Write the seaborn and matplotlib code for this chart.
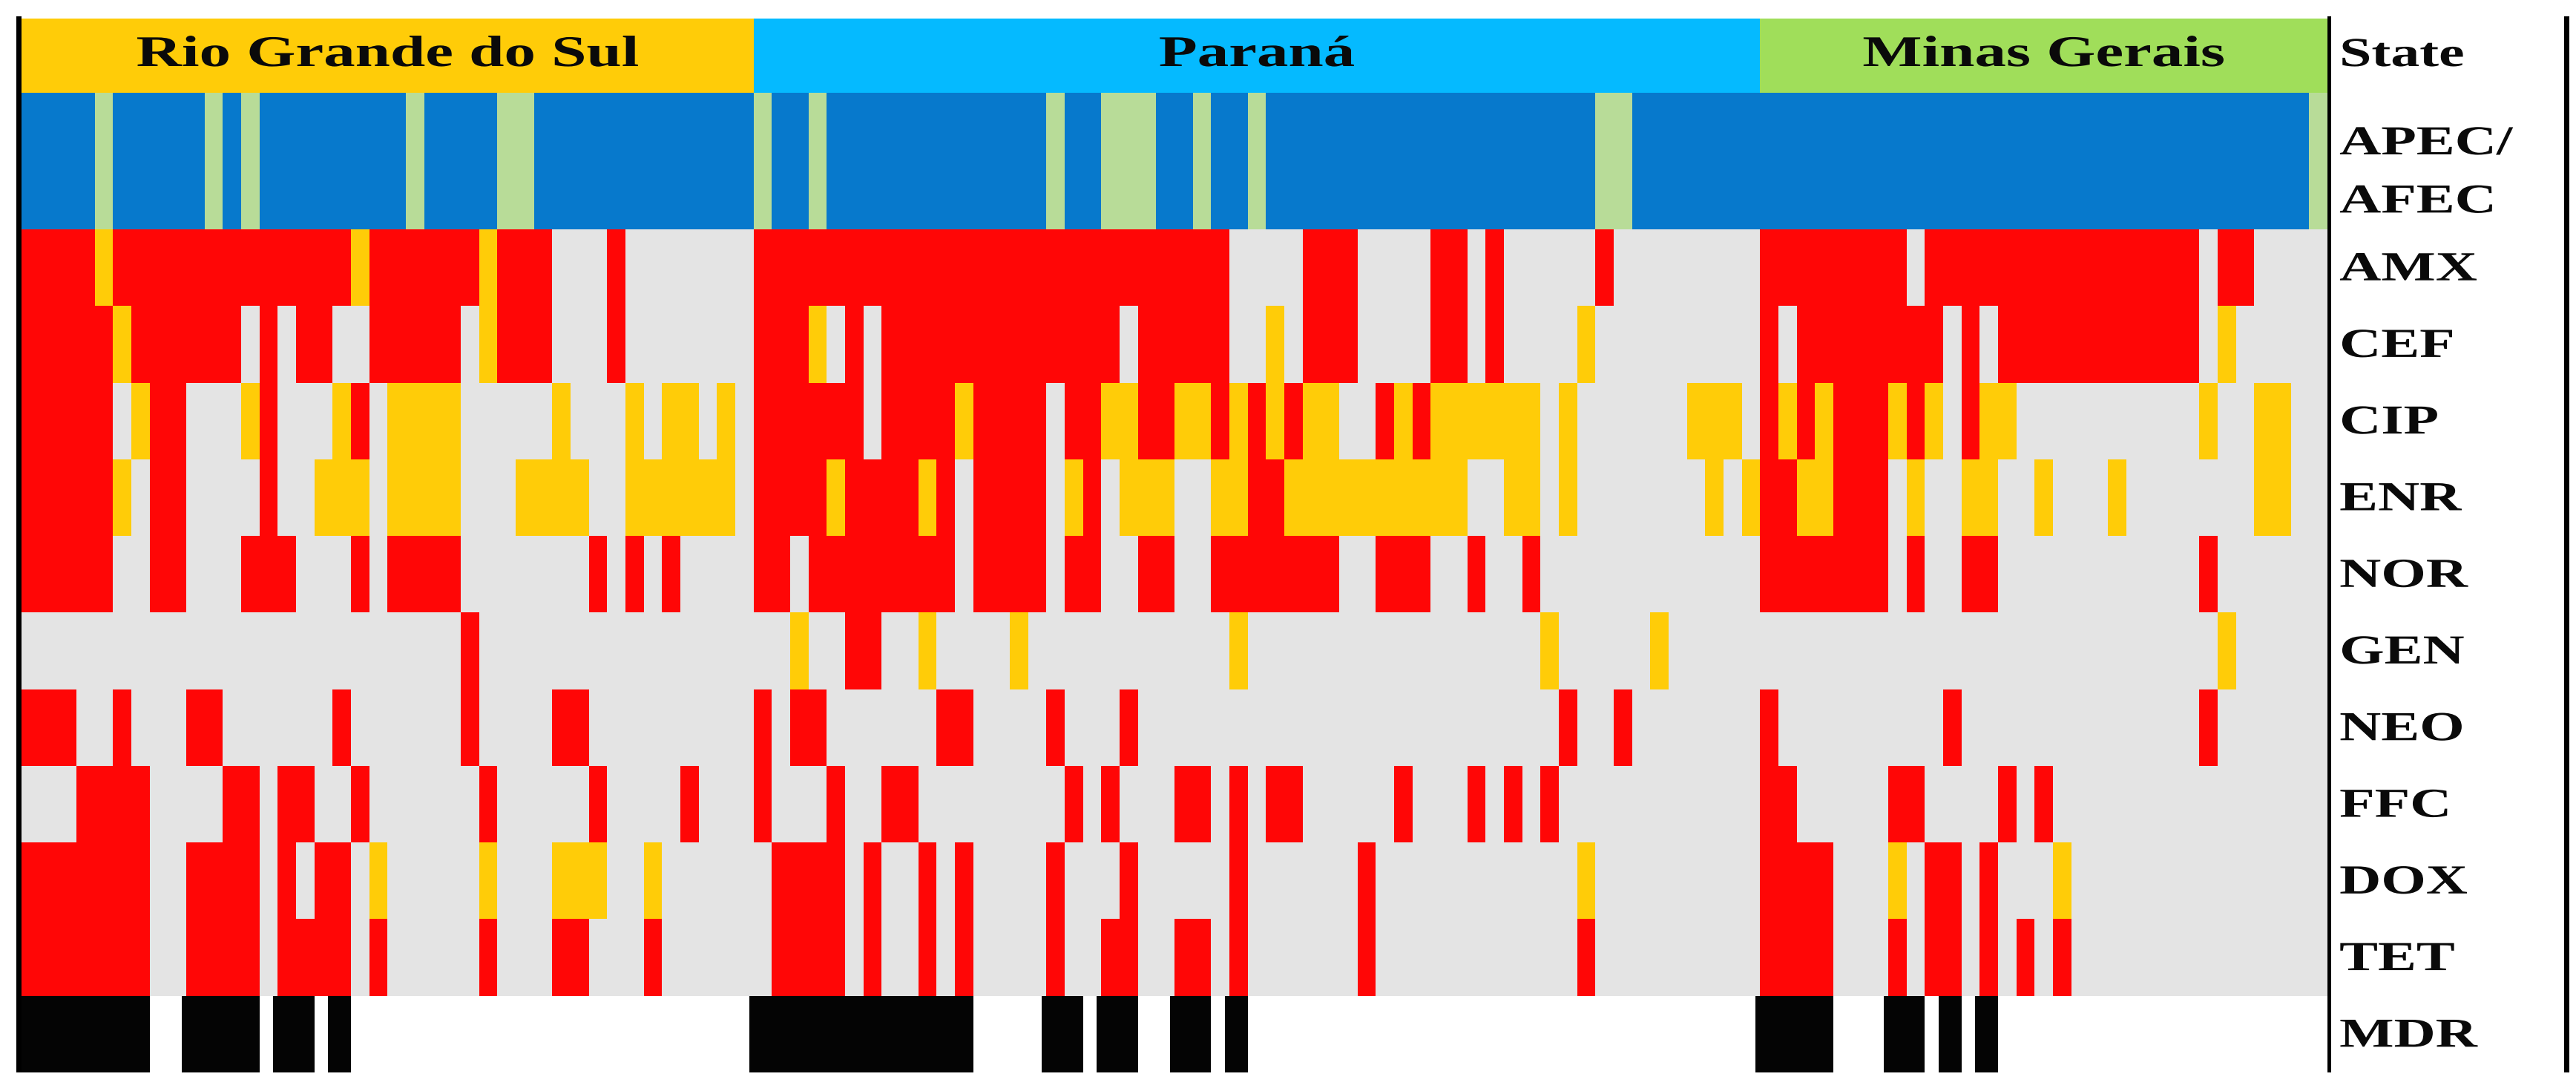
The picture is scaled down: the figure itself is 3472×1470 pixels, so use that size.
import numpy as np
import pandas as pd
import matplotlib
matplotlib.use('Agg')
import matplotlib.pyplot as plt
import seaborn as sns
from matplotlib.colors import ListedColormap
from matplotlib.patches import Rectangle
from matplotlib.patheffects import AbstractPathEffect
from matplotlib.transforms import Affine2D

N_COLS = 126

# isolates per state, in column order
states = ['Rio Grande do Sul', 'Paraná', 'Minas Gerais']
state_sizes = [40, 55, 31]

# columns that are AFEC, all others are APEC
afec = "4 10 12 21 26-27 40 43 56 59-61 64 67 86-87 125"

# resistant (red) and intermediate (yellow) columns for each drug
amx_r = "0-3 5-17 19-24 26-28 32 40-65 70-72 77-78 80 86 95-102 104-118 120-121"
amx_i = "4 18 25"
cef_r = "0-4 6-11 13 15-16 19-23 26-28 32 40-42 45 47-59 61-65 70-72 77-78 80 95 97-104 106 108-118"
cef_i = "5 25 43 68 85 120"
cip_r = "0-4 7-8 13 18 40-45 47-50 52-55 57-58 61-62 65 67 69 74 76 95 97 99-101 103 106"
cip_i = "6 12 17 20-23 29 33 35-36 38 51 59-60 63-64 66 68 70-71 75 77-82 84 91-93 96 98 102 104 107-108 119 122-123"
enr_r = "0-4 7-8 13 40-43 45-48 50 52-55 58 67-68 95-96 99-101"
enr_i = "5 16-18 20-23 27-30 33-38 44 49 57 60-62 65-66 69-78 81-82 84 92 94 97-98 103 106-107 110 114 122-123"
nor_r = "0-4 7-8 12-14 18 20-23 31 33 35 40-41 43-50 52-55 57-58 61-62 65-71 74-76 79 82 95-101 103 106-107 119"
nor_i = ""
gen_r = "24 45-46"
gen_i = "42 49 54 66 83 89 120"
neo_r = "0-2 5 9-10 17 24 29-30 40 42-43 50-51 56 60 84 87 95 105 119"
neo_i = ""
ffc_r = "3-6 11-12 14-15 18 25 31 36 40 44 47-48 57 59 63-64 66 68-69 75 79 81 83 95-96 102-103 108 110"
ffc_i = ""
dox_r = "0-6 9-12 14 16-17 41-44 46 49 51 56 60 66 73 95-98 104-105 107"
dox_i = "19 25 29-31 34 85 102 111"
tet_r = "0-6 9-12 14-17 19 25 29-30 34 41-44 46 49 51 56 59-60 63-64 66 73 85 95-98 102 104-105 107 109 111"
tet_i = ""
mdr = "0-6 9-12 14-15 17 40-51 56-57 59-60 63-64 66 95-98 102-103 105 107"


def parse_cols(spans):
    """turn '0-3 7' into a list of column numbers"""
    cols = []
    for part in spans.split():
        a, _, b = part.partition('-')
        cols.extend(range(int(a), int(b or a) + 1))
    return cols


def make_row(red, yellow=""):
    row = np.zeros(N_COLS, dtype=int)
    row[parse_cols(yellow)] = 1
    row[parse_cols(red)] = 2
    return row


class StretchX(AbstractPathEffect):
    """the original lettering is wider than any installed serif"""

    def __init__(self, factor, x0, dy=0):
        super().__init__()
        self.stretch = Affine2D().translate(-x0, dy).scale(factor, 1).translate(x0, 0)

    def draw_path(self, renderer, gc, tpath, affine, rgbFace=None):
        super().draw_path(renderer, gc, tpath, affine + self.stretch, rgbFace)


sns.set_theme(style='white')
plt.rcParams['font.family'] = ['Liberation Serif', 'DejaVu Serif']

W, H = 3473, 1470
LEFT, RIGHT = 29, 3137
LABEL_X = 3157
fig = plt.figure(figsize=(W / 100, H / 100), dpi=100, facecolor='white')


def add_ax(top, bottom, shift=0):
    return fig.add_axes([(LEFT + shift) / W, 1 - bottom / H, (RIGHT - LEFT) / W, (bottom - top) / H])


def style_labels(ax, dy=3):
    ax.yaxis.tick_right()
    ax.tick_params(axis='y', length=0, pad=12, labelsize=40, labelrotation=0)
    ax.tick_params(axis='x', length=0)
    for lbl in ax.get_yticklabels():
        lbl.set_fontweight('bold')
        lbl.set_color('#0a0a0a')
        lbl.set_horizontalalignment('left')
        lbl.set_linespacing(1.66)
        lbl.set_path_effects([StretchX(1.4, LABEL_X - 2, dy)])


# state strip
ax_state = add_ax(25, 125)
state_row = np.repeat(np.arange(len(states)), state_sizes)
sns.heatmap(pd.DataFrame([state_row], index=['State']), ax=ax_state, cbar=False,
            cmap=ListedColormap(['#FFCC08', '#05BAFF', '#A0DE5A']), vmin=-0.5, vmax=2.5,
            xticklabels=False, yticklabels=True, antialiased=False)
style_labels(ax_state, dy=6)
start = 0
for name, size in zip(states, state_sizes):
    xc = start + size / 2
    x0 = ax_state.transData.transform((xc, 0))[0]
    ax_state.text(xc, 0.5, name, ha='center', va='center', fontsize=42.5, fontweight='bold',
                  color='#0a0a0a', path_effects=[StretchX(1.44, x0)])
    start += size

# phylogroup strip
ax_type = add_ax(125, 309)
sns.heatmap(pd.DataFrame([make_row(afec)], index=['APEC/\nAFEC']), ax=ax_type, cbar=False,
            cmap=ListedColormap(['#0779CC', '#B8DC98']), vmin=0, vmax=2,
            xticklabels=False, yticklabels=True, antialiased=False)
style_labels(ax_type)

# resistance matrix
resistance = pd.DataFrame(
    [make_row(amx_r, amx_i), make_row(cef_r, cef_i), make_row(cip_r, cip_i),
     make_row(enr_r, enr_i), make_row(nor_r, nor_i), make_row(gen_r, gen_i),
     make_row(neo_r, neo_i), make_row(ffc_r, ffc_i), make_row(dox_r, dox_i),
     make_row(tet_r, tet_i)],
    index=['AMX', 'CEF', 'CIP', 'ENR', 'NOR', 'GEN', 'NEO', 'FFC', 'DOX', 'TET'])
mdr_row = np.full(N_COLS, 4)
mdr_row[parse_cols(mdr)] = 3
resistance.loc['MDR'] = mdr_row

ax_res = add_ax(309, 1445)
sns.heatmap(resistance, ax=ax_res, cbar=False,
            cmap=ListedColormap(['#E4E4E4', '#FFCC08', '#FF0606', '#040404', '#FFFFFF']),
            vmin=-0.5, vmax=4.5, xticklabels=False, yticklabels=True, antialiased=False)
style_labels(ax_res)

# the MDR strip sits a few pixels left of the grid in the original
ax_mdr = add_ax(1342, 1445, shift=-6)
sns.heatmap(pd.DataFrame([mdr_row]), ax=ax_mdr, mask=np.array([mdr_row != 3]), cbar=False,
            cmap=ListedColormap(['#040404']), xticklabels=False, yticklabels=False,
            antialiased=False)
ax_mdr.patch.set_visible(False)

# black rules down the figure
for x0, x1 in [(22, 29), (3137, 3142), (3456, 3463)]:
    fig.add_artist(Rectangle((x0 / W, 1 - 1445 / H), (x1 - x0) / W, (1445 - 22) / H,
                             transform=fig.transFigure, facecolor='black', edgecolor='none'))

fig.savefig('out.png', dpi=100)
